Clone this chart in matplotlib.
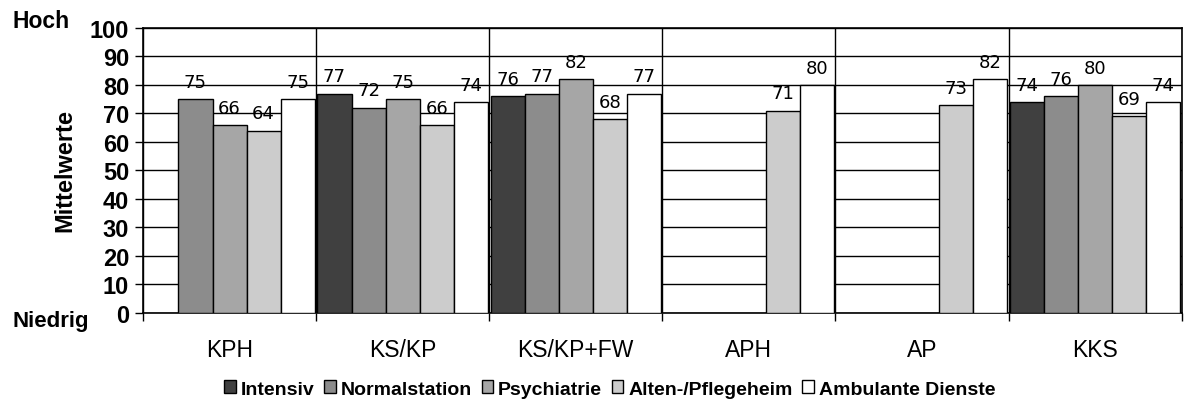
import matplotlib
matplotlib.use('Agg')
import matplotlib.pyplot as plt
import numpy as np

# Mittelwerte je Einrichtungstyp und Bereich
gruppen = ['KPH', 'KS/KP', 'KS/KP+FW', 'APH', 'AP', 'KKS']
serien = ['Intensiv', 'Normalstation', 'Psychiatrie', 'Alten-/Pflegeheim', 'Ambulante Dienste']
intensiv = [np.nan, 77, 76, np.nan, np.nan, 74]
normalstation = [75, 72, 77, np.nan, np.nan, 76]
psychiatrie = [66, 75, 82, np.nan, np.nan, 80]
alten_pflegeheim = [64, 66, 68, 71, 73, 69]
ambulante_dienste = [75, 74, 77, 80, 82, 74]
farben = ['#404040', '#8c8c8c', '#a6a6a6', '#cccccc', '#ffffff']

werte = [intensiv, normalstation, psychiatrie, alten_pflegeheim, ambulante_dienste]

plt.rcParams['font.family'] = ['Liberation Sans', 'DejaVu Sans']

fig = plt.figure(figsize=(11.84, 4.06), dpi=100)
ax = fig.add_axes([0.1208, 0.2266, 0.8772, 0.702])

x = np.arange(len(gruppen))
breite = 0.197
start = (1 - 5 * breite) / 2
for j, (name, vals, col) in enumerate(zip(serien, werte, farben)):
    pos = x + start + (j + 0.5) * breite
    ax.bar(pos, vals, width=breite, color=col, edgecolor='black',
           linewidth=1, label=name, zorder=3)
    for p, v in zip(pos, vals):
        if not np.isnan(v):
            ax.annotate(f'{v:.0f}', (p, v), xytext=(0, 6), textcoords='offset points',
                        ha='center', va='bottom', fontsize=13,
                        family='DejaVu Sans', zorder=4)

ax.set_xlim(0, len(gruppen))
ax.set_ylim(0, 100)
ax.set_yticks(range(0, 101, 10))
ax.set_yticklabels([str(v) for v in range(0, 101, 10)], fontsize=17, fontweight='bold')
ax.set_xticks(np.arange(0, len(gruppen) + 1))
ax.set_xticklabels([])
ax.set_xticks(x + 0.5, minor=True)
ax.set_xticklabels(gruppen, minor=True, fontsize=16.5)
ax.tick_params(axis='x', which='major', length=6, width=1, direction='out')
ax.tick_params(axis='x', which='minor', length=0, pad=18)
ax.tick_params(axis='y', length=6, width=1, direction='out', pad=4)
ax.grid(True, which='major', color='black', linewidth=1, zorder=0)
for s in ax.spines.values():
    s.set_linewidth(1.2)

fig.text(65 / 1184, 1 - 171 / 406, 'Mittelwerte', fontsize=17, fontweight='bold',
         rotation=90, ha='center', va='center')
fig.text(12 / 1184, 1 - 22 / 406, 'Hoch', fontsize=16.5, fontweight='bold', ha='left', va='center')
fig.text(12 / 1184, 1 - 322 / 406, 'Niedrig', fontsize=16, fontweight='bold', ha='left', va='center')

fig.legend(loc='center', bbox_to_anchor=(0.515, 1 - 390 / 406), ncol=5, frameon=False,
           handlelength=0.6, handleheight=0.6, handletextpad=0.25, columnspacing=0.5,
           prop={'weight': 'bold', 'size': 14})

fig.savefig('out.png', dpi=100)
